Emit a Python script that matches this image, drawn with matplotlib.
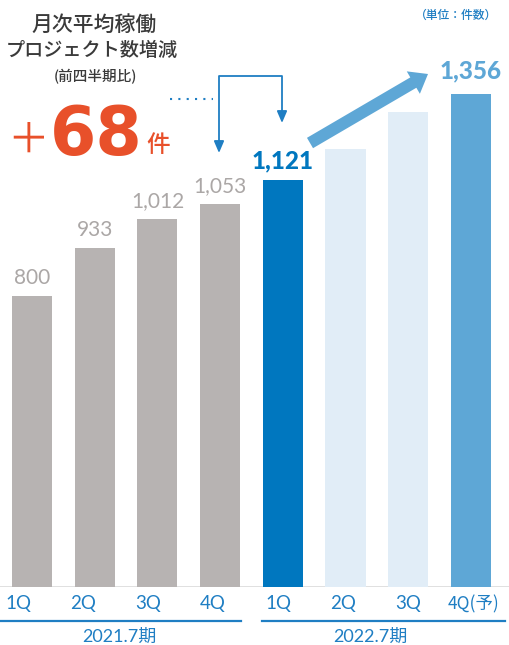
import matplotlib
matplotlib.use("Agg")
import matplotlib.pyplot as plt
from matplotlib.patches import FancyArrow

# ---- data ----
quarters = ["1Q", "2Q", "3Q", "4Q", "1Q", "2Q", "3Q", "4Q(予)"]
values = [800, 933, 1012, 1053, 1121, 1206, 1307, 1356]
labels = ["800", "933", "1,012", "1,053", "1,121", "", "", "1,356"]
groups = ["2021.7期", "2022.7期"]
change = "68"

GRAY = "#B7B3B2"
DBLUE = "#0077BF"
LBLUE = "#E1EDF7"
MBLUE = "#5EA7D6"
TBLUE = "#1F7EC3"
ORANGE = "#E8502A"
colors = [GRAY] * 4 + [DBLUE, LBLUE, LBLUE, MBLUE]

W, H = 510, 645
fig = plt.figure(figsize=(W / 100, H / 100), dpi=100)
fig.patch.set_facecolor("white")

cjk = ["Noto Sans CJK JP", "DejaVu Sans"]
lat = ["Lato", "Noto Sans CJK JP"]

# main axes: baseline at 587 px from top, 0.3633 px per unit
base_px = 587
ymax = 1500
ax_h = ymax * 0.3633
ax = fig.add_axes([0, (H - base_px) / H, 1, ax_h / H])
step = 62.7
x0 = 32
ax.set_xlim((0 - x0) / step, (W - x0) / step)
ax.set_ylim(0, ymax)
xs = list(range(len(values)))
ax.bar(xs, values, width=0.64, color=colors, zorder=2)
for s in ax.spines.values():
    s.set_visible(False)
ax.axhline(0, color="#DADADA", lw=1.2, zorder=1)
ax.set_yticks([])
# tick labels sit on a slightly wider, evenly spaced grid than the bars
tick_pos = [((18 + 65 * i) - x0) / step for i in xs]
ax.set_xticks(tick_pos)
ax.set_xticklabels(quarters, color=TBLUE, fontsize=13.5)
for t in ax.get_xticklabels():
    if "予" in t.get_text():
        t.set_family(cjk)
        t.set_fontsize(12.5)
    else:
        t.set_family(lat)
ax.tick_params(axis="x", length=0, pad=6)

# value labels
for i, (v, lab) in enumerate(zip(values, labels)):
    if not lab:
        continue
    if i < 4:
        ax.annotate(lab, (i, v), xytext=(0, 6), textcoords="offset points",
                    ha="center", va="bottom", color="#ABA7A6", fontsize=15,
                    family="Lato")
    elif i == 4:
        ax.annotate(lab, (i, v), xytext=(0, 5), textcoords="offset points",
                    ha="center", va="bottom", color=DBLUE, fontsize=17.5,
                    family="Lato", fontweight="black")
    else:
        ax.annotate(lab, (i, v), xytext=(0, 9), textcoords="offset points",
                    ha="center", va="bottom", color=MBLUE, fontsize=17.5,
                    family="Lato", fontweight="black")

# group lines and labels
xt = ax.get_xaxis_transform()
gline_y = -(621 - base_px) / ax_h
glabel_y = -(637 - base_px) / ax_h
for g, (a, b) in enumerate([(0, 3), (4, 7)]):
    left = a - 0.51 if g == 0 else a - 0.33
    right = b + 0.33 if g == 0 else b + 0.54
    ax.plot([left, right], [gline_y, gline_y], transform=xt, color=TBLUE,
            lw=1.6, clip_on=False)
    ax.text((a + b) / 2 - 0.1, glabel_y, groups[g], transform=xt, ha="center",
            va="center", color=TBLUE, fontsize=13, family=lat)

# overlay in pixel coordinates
ov = fig.add_axes([0, 0, 1, 1], zorder=5)
ov.set_xlim(0, W)
ov.set_ylim(H, 0)
ov.axis("off")
ov.patch.set_alpha(0)

ov.text(94, 25, "月次平均稼働", ha="center", va="center", fontsize=15,
        family=cjk, fontweight="medium", color="#3A3A3A")
ov.text(92, 50, "プロジェクト数増減", ha="center", va="center", fontsize=13.8,
        family=cjk, fontweight="medium", color="#3A3A3A")
ov.text(95, 77, "(前四半期比)", ha="center", va="center", fontsize=10.5,
        family=cjk, fontweight="medium", color="#3A3A3A")
ov.text(456, 15, "（単位：件数）", ha="center", va="center", fontsize=8.5,
        family=cjk, fontweight="medium", color=TBLUE)

ov.text(28, 141, "＋", ha="center", va="center", fontsize=30,
        family=cjk, color=ORANGE)
ov.text(96, 155, change, ha="center", va="baseline", fontsize=48,
        family="DejaVu Sans", fontweight="bold", color=ORANGE)
ov.text(158, 146, "件", ha="center", va="center", fontsize=17,
        family=cjk, fontweight="medium", color=ORANGE)

# dotted line and bent arrows
ov.plot([170, 213], [99, 99], color=TBLUE, lw=1.5, ls=(0, (1, 3)))
ov.plot([219, 219, 282, 282], [146, 76, 76, 116], color=TBLUE, lw=1.3)
for xa, ya in [(219, 153), (282, 123)]:
    ov.annotate("", xy=(xa, ya), xytext=(xa, ya - 12),
                arrowprops=dict(arrowstyle="-|>,head_length=0.7,head_width=0.3",
                                color=TBLUE, lw=1.3, shrinkA=0, shrinkB=0))

# thick arrow
x1, y1, x2, y2 = 310, 143, 428, 74
ov.add_patch(FancyArrow(x1, y1, x2 - x1, y2 - y1, width=12, head_width=26,
                        head_length=17, length_includes_head=True,
                        color=MBLUE, lw=0))

fig.savefig("out.png", dpi=100, facecolor="white")
